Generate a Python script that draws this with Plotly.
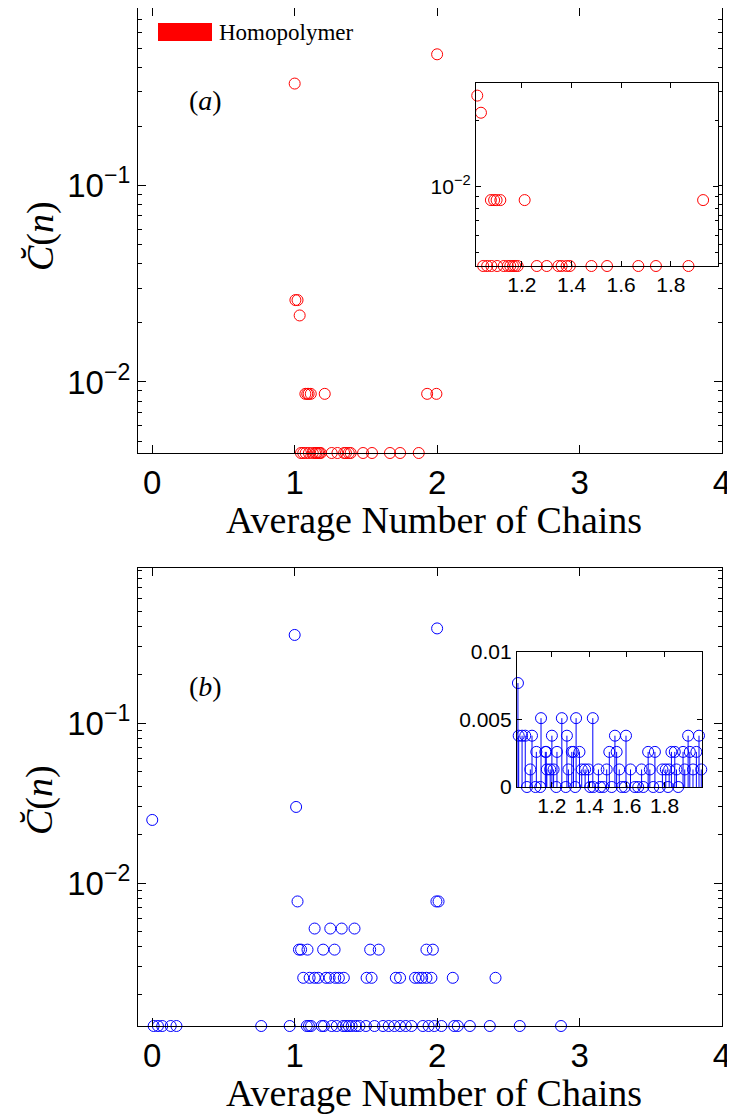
import numpy as np
import plotly.graph_objects as go

# page body has an 8px margin: figure drawn at (8, 8)
OFF = 8
FW, FH = 735 - OFF, 1114 - OFF

# ---------------- data ----------------
# panel (a): homopolymer
homo_x = [1.00, 2.00, 1.005, 1.02, 1.035,
          1.075, 1.088, 1.098, 1.113, 1.211, 1.93, 1.995,
          1.044, 1.06, 1.077, 1.10, 1.127, 1.143, 1.153, 1.164, 1.173, 1.183,
          1.26, 1.30, 1.347, 1.36, 1.38, 1.393, 1.48, 1.543, 1.669, 1.74, 1.871]
homo_y = [0.33, 0.465, 0.0261, 0.0261, 0.0218,
          0.0087, 0.0087, 0.0087, 0.0087, 0.0087, 0.0087, 0.0087,
          0.00435, 0.00435, 0.00435, 0.00435, 0.00435, 0.00435, 0.00435, 0.00435, 0.00435, 0.00435,
          0.00435, 0.00435, 0.00435, 0.00435, 0.00435, 0.00435, 0.00435, 0.00435, 0.00435, 0.00435, 0.00435]

# panel (b): main scatter
cop_x = [0.00, 1.01, 1.00, 2.00,
         1.02, 1.995, 2.01,
         1.14, 1.25, 1.33, 1.42,
         1.03, 1.045, 1.09, 1.20, 1.28, 1.53, 1.59, 1.925, 1.97,
         1.06, 1.105, 1.14, 1.165, 1.22, 1.245, 1.285, 1.31, 1.345, 1.505, 1.54, 1.71, 1.74,
         1.845, 1.87, 1.895, 1.925, 1.96, 2.11, 2.41,
         0.01, 0.04, 0.07, 0.13, 0.17, 0.765, 0.965, 1.085, 1.10, 1.115, 1.19, 1.205, 1.26,
         1.295, 1.34, 1.36, 1.38, 1.40, 1.43, 1.455, 1.50, 1.56, 1.62, 1.66, 1.70, 1.74,
         1.78, 1.82, 1.90, 1.94, 1.98, 2.03, 2.12, 2.145, 2.23, 2.37, 2.58, 2.87]
cop_y = [0.0248, 0.0299, 0.355, 0.39,
         0.00768, 0.00768, 0.00768,
         0.0052, 0.0052, 0.0052, 0.0052,
         0.00384, 0.00384, 0.00384, 0.00384, 0.00384, 0.00384, 0.00384, 0.00384, 0.00384,
         0.00256, 0.00256, 0.00256, 0.00256, 0.00256, 0.00256, 0.00256, 0.00256, 0.00256,
         0.00256, 0.00256, 0.00256, 0.00256,
         0.00256, 0.00256, 0.00256, 0.00256, 0.00256, 0.00256, 0.00256,
         0.00128, 0.00128, 0.00128, 0.00128, 0.00128, 0.00128, 0.00128, 0.00128, 0.00128,
         0.00128, 0.00128, 0.00128, 0.00128,
         0.00128, 0.00128, 0.00128, 0.00128, 0.00128, 0.00128, 0.00128, 0.00128, 0.00128,
         0.00128, 0.00128, 0.00128, 0.00128,
         0.00128, 0.00128, 0.00128, 0.00128, 0.00128, 0.00128, 0.00128, 0.00128, 0.00128,
         0.00128, 0.00128, 0.00128]

# panel (b): inset stem data
stem_x = [1.019, 1.023, 1.041, 1.058, 1.067, 1.085, 1.094, 1.112, 1.117, 1.138, 1.142,
          1.165, 1.170, 1.173, 1.191, 1.200, 1.209, 1.223, 1.227, 1.253, 1.274, 1.280,
          1.288, 1.306, 1.315, 1.324, 1.329, 1.347, 1.359, 1.377, 1.395, 1.404, 1.418,
          1.421, 1.448, 1.457, 1.474, 1.492, 1.506, 1.519, 1.536, 1.545, 1.559, 1.572,
          1.589, 1.595, 1.619, 1.642, 1.660, 1.678, 1.687, 1.713, 1.722, 1.740, 1.749,
          1.775, 1.789, 1.807, 1.819, 1.825, 1.837, 1.855, 1.864, 1.873, 1.899, 1.908,
          1.926, 1.935, 1.952, 1.970, 1.984, 1.996]
stem_y = [0.0077, 0.0038, 0.0038, 0.0038, 0.0, 0.0013, 0.0038, 0.0, 0.0026, 0.0, 0.0051,
          0.0026, 0.0026, 0.0013, 0.0013, 0.0038, 0.0013, 0.0, 0.0026, 0.0051, 0.0, 0.0038,
          0.0013, 0.0026, 0.0026, 0.0, 0.0051, 0.0026, 0.0013, 0.0013, 0.0013, 0.0, 0.0051,
          0.0, 0.0013, 0.0, 0.0, 0.0013, 0.0026, 0.0, 0.0038, 0.0026, 0.0013, 0.0,
          0.0, 0.0038, 0.0013, 0.0, 0.0, 0.0013, 0.0, 0.0026, 0.0013, 0.0, 0.0026,
          0.0, 0.0013, 0.0013, 0.0, 0.0013, 0.0026, 0.0026, 0.0013, 0.0, 0.0026, 0.0013,
          0.0038, 0.0026, 0.0013, 0.0026, 0.0038, 0.0013]

x_ticks = [0, 1, 2, 3, 4]
inset_ticks = [1.2, 1.4, 1.6, 1.8]
inset_xlim = [1.015, 1.99]
inset_b_xlim = [1.014, 2.0]

RED = "rgb(255,0,0)"
BLUE = "rgb(0,0,255)"
SANS = "Liberation Sans"
SERIF = "Liberation Serif"


def px_x(p):
    return min(1.0, max(0.0, (p - OFF) / FW))


def px_y(p):
    return min(1.0, max(0.0, 1 - (p - OFF) / FH))


def minor_log(lo, hi):
    vals = []
    for e in range(-4, 1):
        for k in range(2, 10):
            v = k * 10.0 ** e
            if lo <= v <= hi:
                vals.append(v)
    return vals


fig = go.Figure()

# panel (a) main
fig.add_trace(go.Scatter(x=homo_x, y=homo_y, mode="markers", xaxis="x", yaxis="y",
                         marker=dict(symbol="circle-open", size=11, color=RED, line=dict(width=1)),
                         cliponaxis=False, showlegend=False))
# panel (a) inset (same data within inset limits)
hx = np.array(homo_x)
hy = np.array(homo_y)
m = (hx >= inset_xlim[0]) & (hx <= inset_xlim[1]) & (hy < 0.03)
fig.add_trace(go.Scatter(x=hx[m], y=hy[m], mode="markers", xaxis="x3", yaxis="y3",
                         marker=dict(symbol="circle-open", size=11, color=RED, line=dict(width=1)),
                         cliponaxis=False, showlegend=False))

# panel (b) main
fig.add_trace(go.Scatter(x=cop_x, y=cop_y, mode="markers", xaxis="x2", yaxis="y2",
                         marker=dict(symbol="circle-open", size=11, color=BLUE, line=dict(width=1)),
                         cliponaxis=False, showlegend=False))
# panel (b) inset stems
sx, sy = [], []
for xv, yv in zip(stem_x, stem_y):
    sx += [xv, xv, None]
    sy += [0.0, yv, None]
fig.add_trace(go.Scatter(x=sx, y=sy, mode="lines", xaxis="x4", yaxis="y4",
                         line=dict(color=BLUE, width=1), cliponaxis=False, showlegend=False))
fig.add_trace(go.Scatter(x=stem_x, y=stem_y, mode="markers", xaxis="x4", yaxis="y4",
                         marker=dict(symbol="circle-open", size=11, color=BLUE, line=dict(width=1)),
                         cliponaxis=False, showlegend=False))

common = dict(showline=True, linecolor="black", linewidth=1.2, mirror="allticks",
              ticks="inside", tickcolor="black", showgrid=False, zeroline=False,
              automargin=False, ticklabeloverflow="allow")

main_dom_x = [px_x(138), px_x(722)]
ya_lo, ya_hi = 0.00435, 0.80
yb_lo, yb_hi = 0.00128, 0.93
TF = dict(family=SANS, size=33, color="black")
IF = dict(family=SANS, size=21, color="black")

fig.update_layout(
    width=FW, height=FH, margin=dict(l=0, r=0, t=0, b=0),
    paper_bgcolor="white", plot_bgcolor="white",
    xaxis=dict(domain=main_dom_x, anchor="y", range=[-0.1, 4], tickvals=x_ticks,
               ticklen=8, tickfont=TF, **common),
    yaxis=dict(domain=[px_y(453), px_y(8)], anchor="x", type="log",
               range=[np.log10(ya_lo), np.log10(ya_hi)],
               tickvals=[0.01, 0.1], ticktext=["10<sup>−2</sup>", "10<sup>−1</sup>"],
               ticklen=8, tickfont=TF,
               minor=dict(tickvals=minor_log(ya_lo, ya_hi), ticks="inside", ticklen=4,
                          tickcolor="black"),
               **common),
    xaxis2=dict(domain=main_dom_x, anchor="y2", range=[-0.1, 4], tickvals=x_ticks,
                ticklen=8, tickfont=TF, **common),
    yaxis2=dict(domain=[px_y(1026), px_y(568)], anchor="x2", type="log",
                range=[np.log10(yb_lo), np.log10(yb_hi)],
                tickvals=[0.01, 0.1], ticktext=["10<sup>−2</sup>", "10<sup>−1</sup>"],
                ticklen=8, tickfont=TF,
                minor=dict(tickvals=minor_log(yb_lo, yb_hi), ticks="inside", ticklen=4,
                           tickcolor="black"),
                **common),
    xaxis3=dict(domain=[px_x(476), px_x(718)], anchor="y3", range=inset_xlim,
                tickvals=inset_ticks, ticklen=5, tickfont=IF, **common),
    yaxis3=dict(domain=[px_y(266), px_y(83)], anchor="x3", type="log",
                range=[np.log10(0.00435), np.log10(0.0298)],
                tickvals=[0.01], ticktext=["10<sup>−2</sup>"], ticklen=5, tickfont=IF,
                minor=dict(tickvals=minor_log(0.00435, 0.0298), ticks="inside", ticklen=3,
                           tickcolor="black"),
                **common),
    xaxis4=dict(domain=[px_x(517), px_x(702)], anchor="y4", range=inset_b_xlim,
                tickvals=inset_ticks, ticklen=5, tickfont=IF, **common),
    yaxis4=dict(domain=[px_y(787), px_y(652)], anchor="x4", range=[0, 0.01],
                tickvals=[0, 0.005, 0.01], ticktext=["0", "0.005", "0.01"], ticklen=5,
                tickfont=IF, **common),
)

ann = []
for yc in (520, 1093):
    ann.append(dict(x=px_x(434), y=px_y(yc), xref="paper", yref="paper",
                    text="Average Number of Chains", showarrow=False,
                    font=dict(family=SERIF, size=38, color="black"),
                    xanchor="center", yanchor="middle"))
for yc in (236, 800):
    ann.append(dict(x=px_x(40), y=px_y(yc), xref="paper", yref="paper",
                    text="<i>C\u0306</i>(<i>n</i>)", showarrow=False, textangle=-90,
                    font=dict(family=SERIF, size=38, color="black"),
                    xanchor="center", yanchor="middle"))
ann.append(dict(x=px_x(205), y=px_y(100), xref="paper", yref="paper", text="(<i>a</i>)",
                showarrow=False, font=dict(family=SERIF, size=28, color="black"),
                xanchor="center", yanchor="middle"))
ann.append(dict(x=px_x(205), y=px_y(686), xref="paper", yref="paper", text="(<i>b</i>)",
                showarrow=False, font=dict(family=SERIF, size=28, color="black"),
                xanchor="center", yanchor="middle"))
ann.append(dict(x=px_x(217), y=px_y(32), xref="paper", yref="paper", text="Homopolymer",
                showarrow=False, font=dict(family=SERIF, size=23, color="black"),
                xanchor="left", yanchor="middle"))
fig.update_layout(annotations=ann)

fig.add_shape(type="rect", xref="paper", yref="paper",
              x0=px_x(158), x1=px_x(212), y0=px_y(41), y1=px_y(23),
              fillcolor=RED, line=dict(width=0))

fig.write_html("out.html")
